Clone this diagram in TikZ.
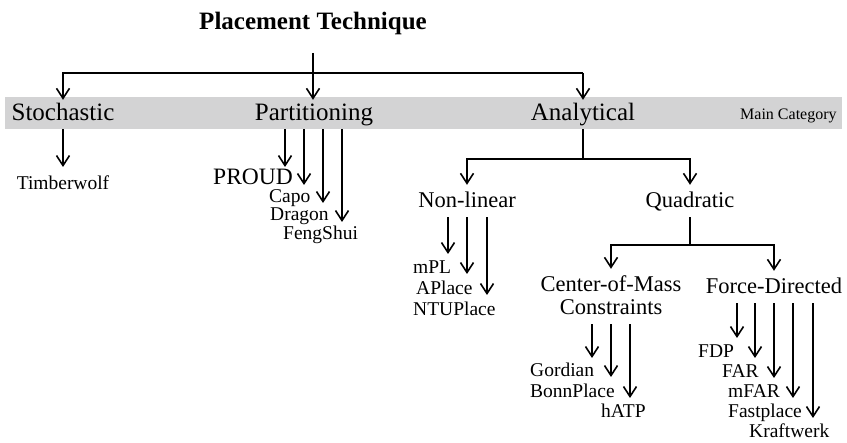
\documentclass[tikz,border=0pt]{standalone}
\usepackage{fontspec}
\setmainfont{Liberation Serif}
\usepackage{tikz}
\usetikzlibrary{arrows.meta}
\definecolor{bandgray}{RGB}{211,211,212}

\begin{document}
\begin{tikzpicture}[x=1pt, y=-1pt,
  line/.style={line width=1.6pt},
  arr/.style={line width=1.6pt, -{Straight Barb[length=10pt,width=13pt]}},
  maincat/.style={font=\fontsize{25}{30}\selectfont, anchor=base, inner sep=0pt},
  subcat/.style={font=\fontsize{22.5}{23}\selectfont, anchor=base, text height=17pt, text depth=3pt, inner sep=6pt},
  leaf/.style={font=\fontsize{19.5}{20}\selectfont, anchor=base west, inner sep=0pt}]
\useasboundingbox (0,0) rectangle (847,443);

%draw band
\node[fill=bandgray, minimum width=837pt, minimum height=32pt, inner sep=0pt] (band) at (423.5,113) {};

%title and main categories
\node[font=\bfseries\fontsize{25}{30}\selectfont, anchor=base] (title) at (313,30) {Placement Technique};
\node[maincat] (stoch) at (63,121) {Stochastic};
\node[maincat] (part) at (314,121) {Partitioning};
\node[maincat] (analyt) at (583,121) {Analytical};
\node[font=\fontsize{16}{19}\selectfont, anchor=base west, inner sep=0pt] (maincap) at (740,120) {Main Category};

%draw top split
\coordinate (hub) at (313,73);
\draw[arr, shorten >=-3pt] ([yshift=-23pt]title.base) -- (band.north -| title);
\draw[arr, shorten >=-3pt] (hub -| analyt) -- (hub -| stoch) -- (band.north -| stoch);
\draw[arr, shorten >=-3pt] (hub -| analyt) -- (band.north -| analyt);

%stochastic
\node[leaf, anchor=base] (timber) at (63,190) {Timberwolf};
\coordinate (tTimber) at (63,167);
\draw[arr] (band.south -| stoch) -- (tTimber);

%partitioning
\node[leaf, font=\fontsize{23.5}{24}\selectfont] (proud) at (213,185) {PROUD};
\node[leaf] (capo) at (269,203) {Capo};
\node[leaf] (dragon) at (270,221) {Dragon};
\node[leaf] (feng) at (283,240) {FengShui};
\coordinate (tProud) at (285,167);
\coordinate (tCapo) at (304,185);
\coordinate (tDragon) at (323,203);
\coordinate (tFeng) at (342,222);
\draw[arr] (band.south -| tProud) -- (tProud);
\draw[arr] (band.south -| tCapo) -- (tCapo);
\draw[arr] (band.south -| tDragon) -- (tDragon);
\draw[arr] (band.south -| tFeng) -- (tFeng);

%analytical
\node[subcat] (nonlin) at (467,208) {Non-linear};
\node[subcat] (quad) at (690,208) {Quadratic};
\coordinate (asplit) at (583,159);
\draw[line] (band.south -| analyt) -- (asplit);
\draw[arr] (asplit) -- (asplit -| nonlin) -- (nonlin.north);
\draw[arr] (asplit) -- (asplit -| quad) -- (quad.north);

%non-linear
\node[leaf] (mpl) at (413,274) {mPL};
\node[leaf] (aplace) at (416,295) {APlace};
\node[leaf] (ntu) at (413,316) {NTUPlace};
\coordinate (tMpl) at (448,254);
\coordinate (tAplace) at (467,274);
\coordinate (tNtu) at (487,295);
\draw[arr] (nonlin.south -| tMpl) -- (tMpl);
\draw[arr] (nonlin.south -| tAplace) -- (tAplace);
\draw[arr] (nonlin.south -| tNtu) -- (tNtu);

%quadratic
\node[subcat] (com) at (611,292) {Center-of-Mass};
\node[subcat] (com2) at (611,315) {Constraints};
\node[subcat] (fd) at (774,294) {Force-Directed};
\coordinate (qsplit) at (690,245);
\draw[line] (quad.south) -- (qsplit);
\draw[arr] (qsplit) -- (qsplit -| com) -- (com.north);
\draw[arr] (qsplit) -- (qsplit -| fd) -- (fd.north);

%center-of-mass
\node[leaf] (gordian) at (530,377) {Gordian};
\node[leaf] (bonn) at (530,398) {BonnPlace};
\node[leaf] (hatp) at (601,418) {hATP};
\coordinate (tGordian) at (592,358);
\coordinate (tBonn) at (611,377);
\coordinate (tHatp) at (630,398);
\draw[arr] (com2.south -| tGordian) -- (tGordian);
\draw[arr] (com2.south -| tBonn) -- (tBonn);
\draw[arr] (com2.south -| tHatp) -- (tHatp);

%force-directed
\node[leaf] (fdp) at (698,358) {FDP};
\node[leaf] (far) at (722,378) {FAR};
\node[leaf] (mfar) at (728,398) {mFAR};
\node[leaf] (fastp) at (728,418) {Fastplace};
\node[leaf] (kraft) at (749,438) {Kraftwerk};
\coordinate (tFdp) at (737,338);
\coordinate (tFar) at (755,358);
\coordinate (tMfar) at (774,378);
\coordinate (tFastp) at (793,398);
\coordinate (tKraft) at (813,418);
\draw[arr] (fd.south -| tFdp) -- (tFdp);
\draw[arr] (fd.south -| tFar) -- (tFar);
\draw[arr] (fd.south -| tMfar) -- (tMfar);
\draw[arr] (fd.south -| tFastp) -- (tFastp);
\draw[arr] (fd.south -| tKraft) -- (tKraft);
\end{tikzpicture}
\end{document}
